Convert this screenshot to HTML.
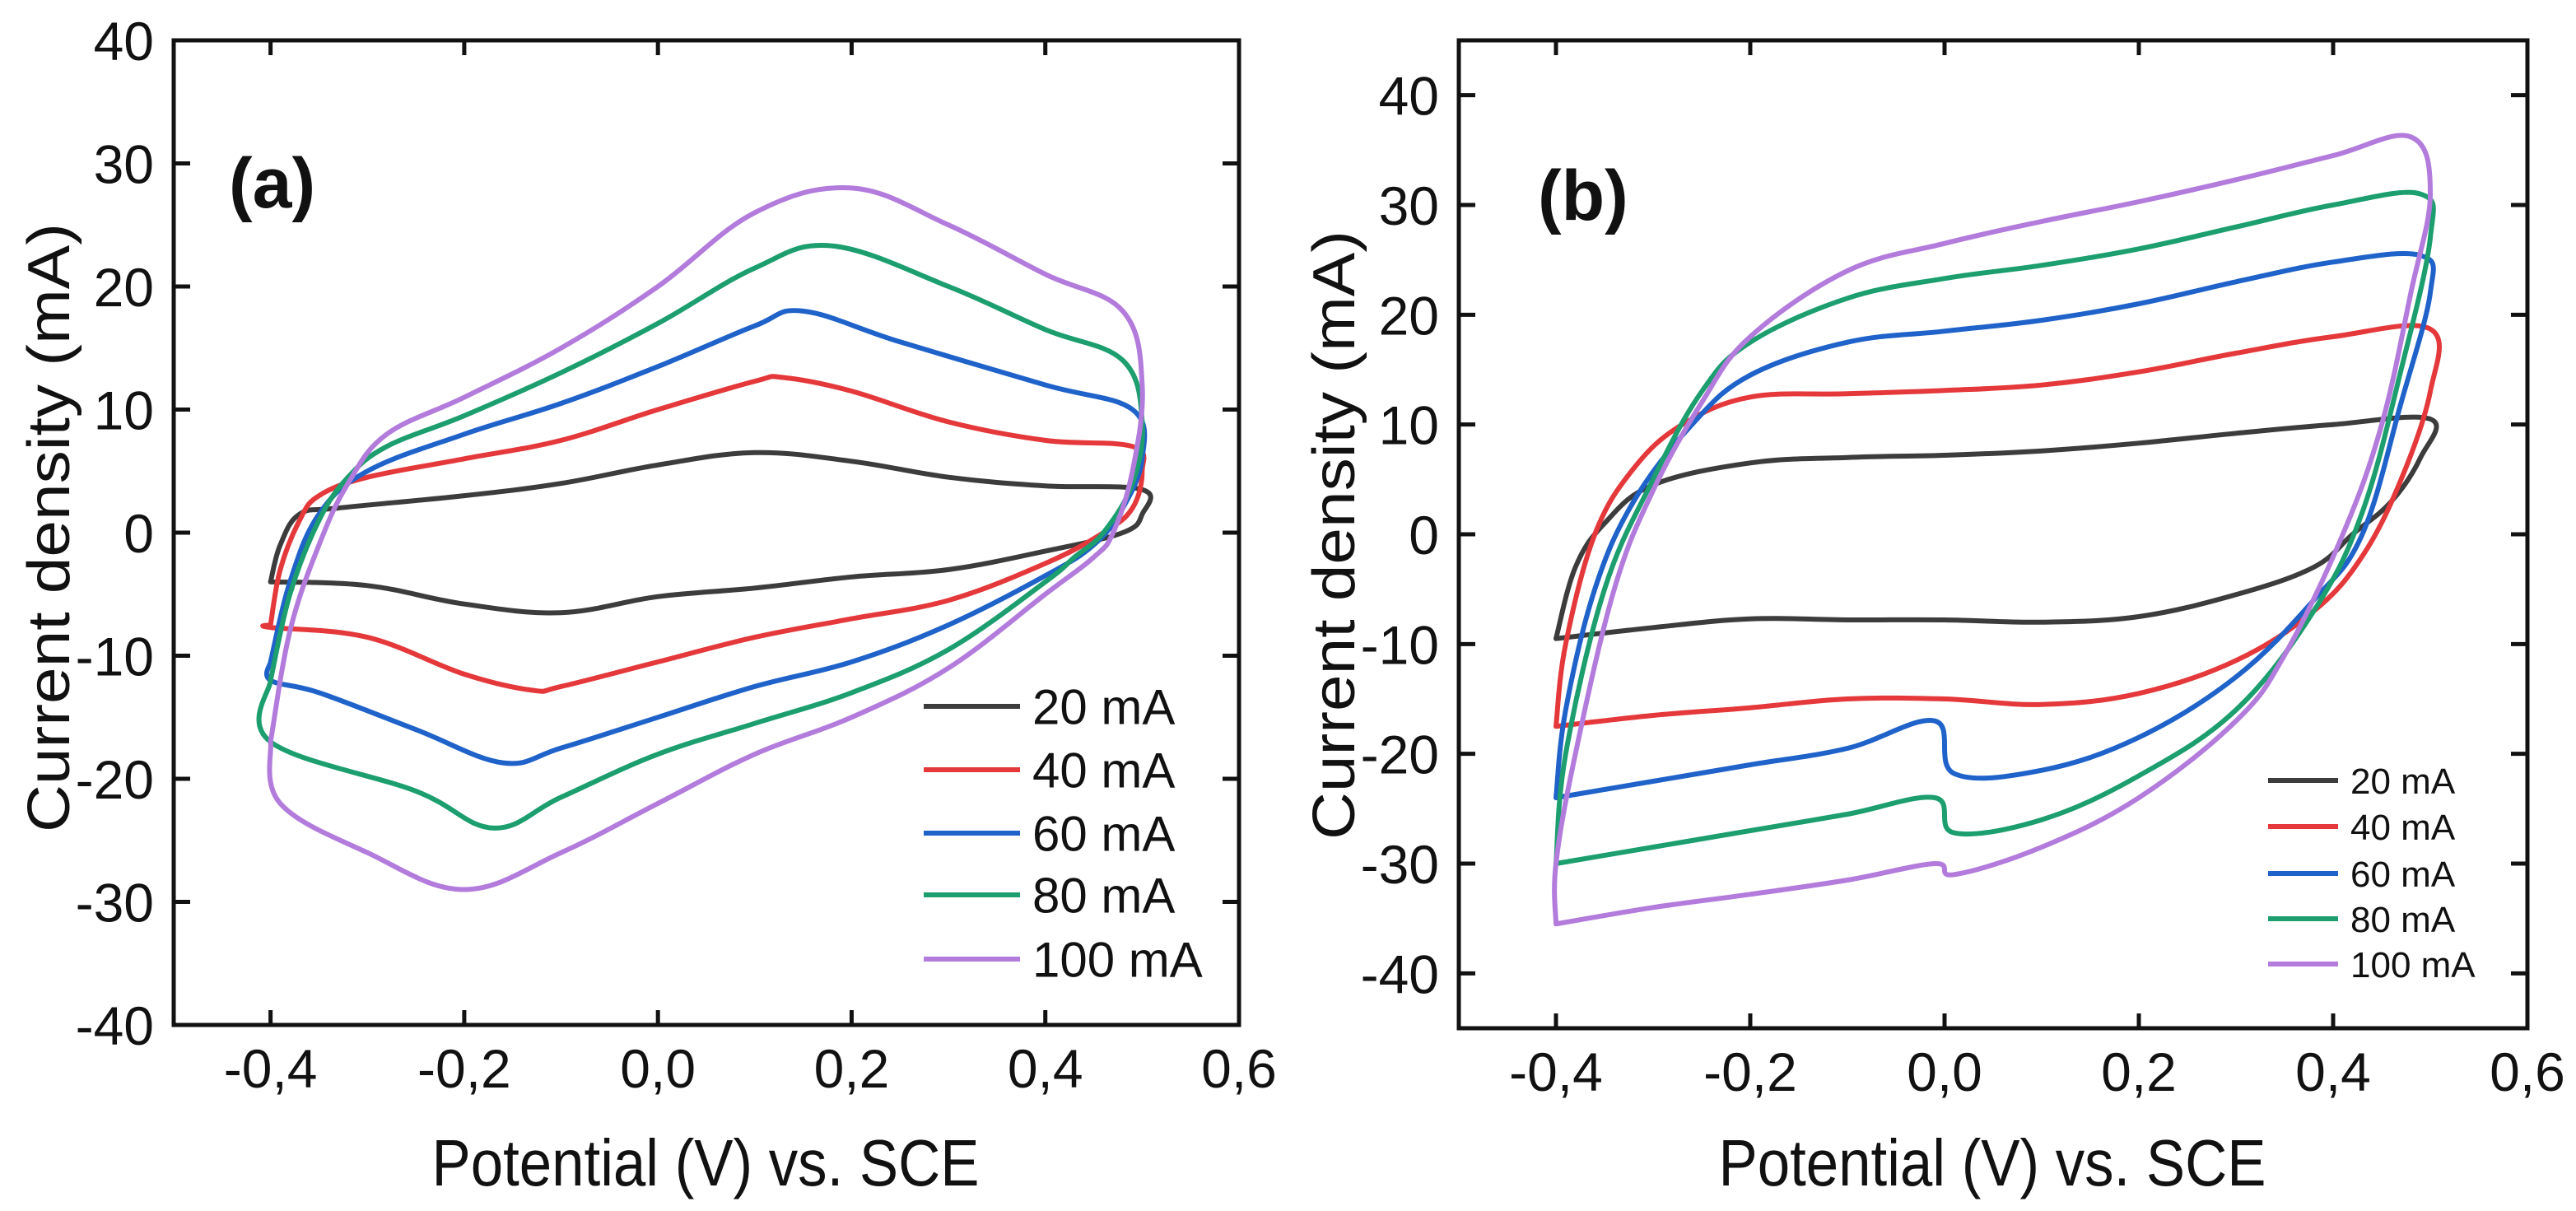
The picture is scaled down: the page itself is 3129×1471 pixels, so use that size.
<!DOCTYPE html>
<html><head><meta charset="utf-8"><style>
html,body{margin:0;padding:0;background:#fff;}
svg{display:block;font-family:"Liberation Sans",Arial,sans-serif;}
</style></head><body>
<svg id="fig" width="3129" height="1471" viewBox="0 0 3129 1471" xmlns="http://www.w3.org/2000/svg"></svg>
<script>
const seriesLabels=["20 mA","40 mA","60 mA","80 mA","100 mA"];
const seriesColors=["#3c3c3c","#e5383b","#1f62c9","#1c9e6e","#b27bdc"];
const xTicks=[-0.4,-0.2,0.0,0.2,0.4,0.6];
const xTickLabels=["-0,4","-0,2","0,0","0,2","0,4","0,6"];
const yTicks=[-40,-30,-20,-10,0,10,20,30,40];
const yTickLabels=["-40","-30","-20","-10","0","10","20","30","40"];
const a20=[[-0.4,-4],[-0.39,-1],[-0.37,1.5],[-0.33,2],[-0.2,3],[-0.1,4],[0,5.5],[0.1,6.5],[0.2,5.8],[0.3,4.5],[0.4,3.8],[0.5,3.5],[0.5,1.5],[0.48,0],[0.4,-1.5],[0.3,-3],[0.2,-3.6],[0.1,-4.5],[0,-5.2],[-0.1,-6.5],[-0.2,-5.8],[-0.3,-4.3],[-0.4,-4]];
const a40=[[-0.4,-7.5],[-0.39,-3],[-0.37,1],[-0.35,3],[-0.3,4.5],[-0.2,6],[-0.1,7.5],[0,10],[0.1,12.3],[0.13,12.6],[0.2,11.5],[0.3,9],[0.4,7.5],[0.49,7],[0.5,5],[0.49,2],[0.46,0],[0.4,-2.5],[0.3,-5.5],[0.2,-7],[0.1,-8.5],[0,-10.5],[-0.1,-12.5],[-0.13,-12.8],[-0.2,-11.5],[-0.3,-8.5],[-0.4,-7.7],[-0.4,-7.5]];
const a60=[[-0.4,-10.5],[-0.38,-4],[-0.35,1.5],[-0.3,5],[-0.2,8],[-0.1,10.5],[0,13.5],[0.1,16.8],[0.15,18],[0.25,15.5],[0.4,12],[0.49,10],[0.5,6],[0.48,2],[0.45,-1],[0.4,-3.5],[0.3,-7.5],[0.2,-10.5],[0.1,-12.5],[0,-15],[-0.1,-17.5],[-0.16,-18.7],[-0.25,-16],[-0.35,-13],[-0.4,-12],[-0.4,-10.5]];
const a80=[[-0.4,-12],[-0.38,-5],[-0.35,1],[-0.32,4.5],[-0.28,7],[-0.2,9.5],[-0.1,13],[0,17],[0.1,21.5],[0.18,23.3],[0.3,20],[0.4,16.5],[0.48,14],[0.5,9],[0.49,4],[0.46,0],[0.43,-2],[0.4,-4],[0.3,-9.5],[0.2,-13],[0.1,-15.5],[0,-18],[-0.1,-21.5],[-0.17,-24],[-0.25,-21],[-0.4,-17],[-0.4,-12]];
const a100=[[-0.4,-17],[-0.38,-8],[-0.35,-1],[-0.32,4],[-0.28,8],[-0.2,11],[-0.1,15],[0,20],[0.1,26],[0.2,28],[0.3,25],[0.4,21],[0.48,18],[0.5,12],[0.49,5],[0.47,0],[0.45,-2],[0.4,-5],[0.3,-11],[0.2,-15],[0.1,-18],[0,-22],[-0.1,-26],[-0.2,-29],[-0.3,-26],[-0.39,-22],[-0.4,-17]];
const b20=[[-0.4,-9.5],[-0.38,-3],[-0.35,1],[-0.3,4.5],[-0.2,6.5],[-0.1,7],[0,7.2],[0.1,7.6],[0.2,8.3],[0.3,9.2],[0.4,10],[0.5,10.5],[0.49,7],[0.46,3],[0.42,0],[0.38,-3],[0.3,-5.5],[0.2,-7.5],[0.1,-8],[0,-7.8],[-0.1,-7.8],[-0.2,-7.7],[-0.3,-8.5],[-0.4,-9.5]];
const b40=[[-0.4,-17.5],[-0.39,-10],[-0.36,0],[-0.32,6],[-0.27,10],[-0.2,12.5],[-0.1,12.8],[0,13.1],[0.1,13.6],[0.2,14.8],[0.3,16.5],[0.4,18],[0.5,18.7],[0.5,13],[0.47,5],[0.43,-2],[0.38,-7],[0.3,-11.5],[0.2,-14.5],[0.1,-15.5],[0,-15],[-0.1,-15],[-0.2,-15.8],[-0.3,-16.5],[-0.4,-17.5]];
const b60=[[-0.4,-24],[-0.39,-16],[-0.36,-5],[-0.32,3],[-0.26,10],[-0.2,14.5],[-0.1,17.5],[0,18.5],[0.1,19.5],[0.2,21],[0.3,23],[0.4,24.8],[0.49,25.4],[0.5,22],[0.47,12],[0.43,0],[0.38,-6],[0.3,-13],[0.2,-18.5],[0.1,-21.5],[0.01,-21.8],[-0.01,-17],[-0.1,-19.5],[-0.2,-21],[-0.3,-22.5],[-0.4,-24]];
const b80=[[-0.4,-30],[-0.39,-20],[-0.35,-5],[-0.3,5],[-0.25,13],[-0.2,17.5],[-0.1,21.5],[0,23.3],[0.1,24.5],[0.2,26],[0.3,28],[0.4,30],[0.49,31],[0.5,27],[0.47,15],[0.43,2],[0.38,-7],[0.3,-16],[0.2,-22],[0.1,-26],[0.01,-27.2],[-0.01,-24],[-0.1,-25.5],[-0.2,-27],[-0.3,-28.5],[-0.4,-30]];
const b100=[[-0.4,-35.5],[-0.4,-30],[-0.38,-20],[-0.34,-5],[-0.3,4],[-0.25,12],[-0.2,18],[-0.1,24],[0,26.5],[0.1,28.5],[0.2,30.3],[0.3,32.3],[0.4,34.5],[0.48,36.2],[0.5,31],[0.48,22],[0.45,10],[0.41,0],[0.35,-11],[0.3,-17],[0.2,-24],[0.1,-28.5],[0.01,-31],[-0.01,-30],[-0.1,-31.5],[-0.2,-32.8],[-0.3,-34],[-0.4,-35.5]];

const NS="http://www.w3.org/2000/svg";
const svg=document.getElementById('fig');
function mk(tag,attrs,parent,text){const e=document.createElementNS(NS,tag);for(const k in attrs)e.setAttribute(k,attrs[k]);if(text!==undefined)e.textContent=text;(parent||svg).appendChild(e);return e;}
function smooth(pts){
  let d='M'+pts[0][0].toFixed(1)+','+pts[0][1].toFixed(1);
  const t=0.18;
  for(let i=0;i<pts.length-1;i++){
    const p0=pts[Math.max(i-1,0)],p1=pts[i],p2=pts[i+1],p3=pts[Math.min(i+2,pts.length-1)];
    const c1=[p1[0]+(p2[0]-p0[0])*t,p1[1]+(p2[1]-p0[1])*t];
    const c2=[p2[0]-(p3[0]-p1[0])*t,p2[1]-(p3[1]-p1[1])*t];
    d+=`C${c1[0].toFixed(1)},${c1[1].toFixed(1)} ${c2[0].toFixed(1)},${c2[1].toFixed(1)} ${p2[0].toFixed(1)},${p2[1].toFixed(1)}`;
  }
  return d;
}
function panel(cfg){
  const g=mk('g',{});
  
  
  const X=v=>cfg.L+(v-(-0.5))/(1.1)*(cfg.R-cfg.L);
  const Y=v=>cfg.T+(cfg.ymax-v)/(cfg.ymax-cfg.ymin)*(cfg.B-cfg.T);
  xTicks.forEach((t,i)=>{
    const x=X(t);
    const tk=mk('path',{d:`M${x},${cfg.B}v-18M${x},${cfg.T}v18`,stroke:'#111','stroke-width':5},g);
    
    
    const lb=mk('text',{x:x,y:cfg.B+76,'font-size':66,'text-anchor':'middle',fill:'#111'},g,xTickLabels[i]);
    
    
  });
  yTicks.forEach((t,i)=>{
    const y=Y(t);
    const tk=mk('path',{d:`M${cfg.L},${y}h20M${cfg.R},${y}h-20`,stroke:'#111','stroke-width':5},g);
    
    
    const lb=mk('text',{x:cfg.L-24,y:y+24,'font-size':66,'text-anchor':'end',fill:'#111'},g,yTickLabels[i]);
    
    
  });
  cfg.data.forEach((d,i)=>{
    const p=mk('path',{d:smooth(d.map(q=>[X(q[0]),Y(q[1])])),fill:'none',stroke:seriesColors[i],'stroke-width':6,'stroke-linejoin':'round','stroke-linecap':'round'},g);
    
    
  });
  const box=mk('rect',{x:cfg.L,y:cfg.T,width:cfg.R-cfg.L,height:cfg.B-cfg.T,fill:'none',stroke:'#111','stroke-width':5},g);
  
  
  seriesLabels.forEach((s,i)=>{
    const y=cfg.legY[i];
    const ln=mk('line',{x1:cfg.legX,x2:cfg.legX+cfg.legW,y1:y,y2:y,stroke:seriesColors[i],'stroke-width':6},g);
    
    
    const tx=mk('text',{x:cfg.legX+cfg.legW+15,y:y+cfg.legF*0.36,'font-size':cfg.legF,fill:'#111'},g,s);
    
    
  });
  const pl=mk('text',{x:cfg.labX,y:cfg.labY,'font-size':86,'font-weight':'bold',fill:'#111'},g,cfg.label);
  
  
  const xt=mk('text',{x:cfg.xtX,y:1440,'font-size':80,'text-anchor':'middle',fill:'#111',textLength:665,lengthAdjust:'spacingAndGlyphs'},g,'Potential (V) vs. SCE');
  
  
  const yt=mk('text',{x:0,y:0,'font-size':72,'text-anchor':'middle',fill:'#111',transform:`translate(${cfg.ytX},${cfg.ytY}) rotate(-90)`,textLength:740,lengthAdjust:'spacingAndGlyphs'},g,'Current density (mA)');
  
  
}
panel({name:'panel-a',L:211,R:1505,T:49,B:1245,ymin:-40,ymax:40,data:[a20,a40,a60,a80,a100],
  legX:1122,legW:117,legY:[858,935,1012,1087,1165],legF:60,label:'(a)',labX:278,labY:252,xtX:857,ytX:84,ytY:641});
panel({name:'panel-b',L:1772,R:3070,T:49,B:1249,ymin:-45,ymax:45,data:[b20,b40,b60,b80,b100],
  legX:2755,legW:85,legY:[948,1004,1061,1116,1171],legF:44,label:'(b)',labX:1868,labY:267,xtX:2420,ytX:1645,ytY:650});
</script>
</body></html>
